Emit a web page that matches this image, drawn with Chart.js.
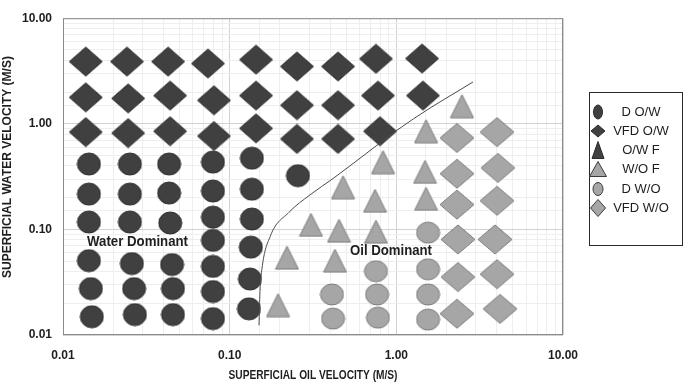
<!DOCTYPE html>
<html>
<head>
<meta charset="utf-8">
<script src="https://cdn.jsdelivr.net/npm/chart.js@4.4.0/dist/chart.umd.min.js"></script>
<style>
  html, body { margin: 0; padding: 0; background: #fff; }
</style>
</head>
<body>
<canvas id="chart" width="685" height="384"></canvas>
<script>
// values, [oil velocity, water velocity] in m/s
const dOW = [
  [0.0143, 0.416], [0.0143, 0.216], [0.0143, 0.1175], [0.0143, 0.0506], [0.0147, 0.0275], [0.0149, 0.0149],
  [0.0252, 0.416], [0.0252, 0.216], [0.0252, 0.1175], [0.0259, 0.0475], [0.0267, 0.0275], [0.0270, 0.0156],
  [0.0433, 0.416], [0.0433, 0.221], [0.0440, 0.115], [0.0451, 0.0465], [0.0457, 0.0275], [0.0457, 0.0156],
  [0.0794, 0.434], [0.0794, 0.231], [0.0794, 0.1306], [0.0794, 0.0787], [0.0794, 0.0446], [0.0794, 0.0258], [0.0794, 0.0143],
  [0.136, 0.472], [0.136, 0.240], [0.136, 0.1253], [0.134, 0.0679], [0.1324, 0.0339], [0.1306, 0.0177],
  [0.257, 0.323]
];
const vfdOW = [
  [0.0137, 3.88], [0.0242, 3.88], [0.0427, 3.88], [0.0741, 3.72], [0.1439, 4.05], [0.2535, 3.49], [0.4467, 3.49], [0.755, 4.13], [1.426, 4.15],
  [0.0137, 1.78], [0.0246, 1.74], [0.0439, 1.85], [0.0805, 1.67], [0.1439, 1.85], [0.2535, 1.50], [0.4467, 1.50], [0.776, 1.85], [1.445, 1.85],
  [0.0137, 0.834], [0.0246, 0.817], [0.0439, 0.851], [0.0805, 0.766], [0.1439, 0.906], [0.2535, 0.719], [0.4467, 0.719], [0.798, 0.851]
];
const owF = [];
const woF = [
  [2.477, 1.47], [1.507, 0.851], [0.832, 0.434], [1.486, 0.351], [0.479, 0.251], [0.745, 0.1867], [1.507, 0.195],
  [0.3076, 0.1104], [0.453, 0.0972], [0.755, 0.0952], [0.2208, 0.054], [0.4285, 0.0506], [0.195, 0.0192]
];
const dWO = [
  [1.549, 0.0931], [0.755, 0.0402], [1.549, 0.0419], [0.411, 0.0242], [0.766, 0.0242], [1.549, 0.0242],
  [0.417, 0.0143], [0.776, 0.0146], [1.549, 0.0140]
];
const vfdWO = [
  [2.312, 0.734], [4.018, 0.834], [2.312, 0.3367], [4.07, 0.382], [2.312, 0.1718], [4.018, 0.1867],
  [2.344, 0.0804], [3.91, 0.0804], [2.344, 0.0354], [4.018, 0.0377], [2.312, 0.0159], [4.19, 0.01766]
];
const boundary = [
  [0.150, 0.01233], [0.152, 0.0258], [0.156, 0.0419], [0.175, 0.0857], [0.227, 0.1452], [0.303, 0.212],
  [0.417, 0.303], [0.649, 0.513], [1.009, 0.869], [1.592, 1.41], [2.477, 2.15], [2.884, 2.49]
];
const seriesNames = ['D O/W', 'VFD O/W', 'O/W F', 'W/O F', 'D W/O', 'VFD W/O'];
const regionLabels = [
  { text: 'Water Dominant', x: 0.028, y: 0.0755, width: 101 },
  { text: 'Oil Dominant', x: 0.929, y: 0.0625, width: 82 }
];
const xTitle = 'SUPERFICIAL OIL VELOCITY (M/S)';
const yTitle = 'SUPERFICIAL WATER VELOCITY (M/S)';
const axisMin = 0.01;
const axisMax = 10;

const FONT = "'Liberation Sans Narrow', 'Liberation Sans', sans-serif";
const DARK = '#404040', DARK_LINE = '#2b2b2b';
const LIGHT = '#a6a6a6', LIGHT_LINE = '#7d7d7d';

function drawShape(ctx, type, cx, cy, w, h) {
  ctx.beginPath();
  if (type === 'circle') {
    ctx.ellipse(cx, cy, w / 2, h / 2, 0, 0, Math.PI * 2);
  } else if (type === 'diamond') {
    ctx.moveTo(cx, cy - h / 2);
    ctx.lineTo(cx + w / 2, cy);
    ctx.lineTo(cx, cy + h / 2);
    ctx.lineTo(cx - w / 2, cy);
    ctx.closePath();
  } else {
    ctx.moveTo(cx, cy - h / 2);
    ctx.lineTo(cx + w / 2, cy + h / 2);
    ctx.lineTo(cx - w / 2, cy + h / 2);
    ctx.closePath();
  }
}

function makeMarker(type, w, h, fill, stroke) {
  const c = document.createElement('canvas');
  c.width = w + 2;
  c.height = h + 2;
  const ctx = c.getContext('2d');
  drawShape(ctx, type, c.width / 2, c.height / 2, w, h);
  ctx.fillStyle = fill;
  ctx.fill();
  ctx.strokeStyle = stroke;
  ctx.lineWidth = 1;
  ctx.stroke();
  return c;
}

const toXY = arr => arr.map(p => ({ x: p[0], y: p[1] }));

// legend marker looks (small, a bit distorted like the original)
const legendMarks = [
  { type: 'circle', w: 9, h: 14, fill: DARK, stroke: DARK_LINE },
  { type: 'diamond', w: 14, h: 12, fill: DARK, stroke: DARK_LINE },
  { type: 'triangle', w: 12, h: 17, fill: DARK, stroke: DARK_LINE },
  { type: 'triangle', w: 17, h: 15, fill: LIGHT, stroke: '#3a3a3a' },
  { type: 'circle', w: 10, h: 13, fill: LIGHT, stroke: '#3a3a3a' },
  { type: 'diamond', w: 15, h: 17, fill: LIGHT, stroke: '#3a3a3a' }
];

function scatterSet(label, data, marker) {
  return {
    type: 'scatter',
    label: label,
    data: toXY(data),
    pointStyle: marker,
    pointRadius: 10,
    pointHoverRadius: 10
  };
}

const isDecade = v => {
  const l = Math.log10(v);
  return Math.abs(l - Math.round(l)) < 1e-6;
};

const extras = {
  id: 'extras',
  beforeDatasetsDraw(chart) {
    const { ctx, chartArea: a } = chart;
    ctx.save();
    ctx.strokeStyle = '#8a8a8a';
    ctx.lineWidth = 1;
    ctx.strokeRect(a.left + 0.5, a.top + 0.5, a.right - a.left - 1, a.bottom - a.top - 1);
    ctx.restore();
  },
  afterDraw(chart) {
    const { ctx, chartArea: a } = chart;
    const xs = chart.scales.x, ys = chart.scales.y;
    ctx.save();
    ctx.fillStyle = '#1e1e1e';
    ctx.textAlign = 'center';
    ctx.textBaseline = 'middle';

    ctx.font = 'bold 14px ' + FONT;
    regionLabels.forEach(r => {
      ctx.fillText(r.text, xs.getPixelForValue(r.x), ys.getPixelForValue(r.y), r.width);
    });

    ctx.font = 'bold 12px ' + FONT;
    ctx.fillText(xTitle, (a.left + a.right) / 2, 376, 169);

    ctx.save();
    ctx.translate(8, 167);
    ctx.rotate(-Math.PI / 2);
    ctx.fillText(yTitle, 0, 0, 230);
    ctx.restore();

    // legend box
    ctx.strokeStyle = '#2a2a2a';
    ctx.lineWidth = 1;
    ctx.strokeRect(589.5, 92.5, 93, 153);
    const rowY = [112, 131, 150, 169, 189, 208];
    ctx.font = '13px ' + FONT;
    seriesNames.forEach((name, i) => {
      const m = legendMarks[i];
      drawShape(ctx, m.type, 598, rowY[i], m.w, m.h);
      ctx.fillStyle = m.fill;
      ctx.fill();
      ctx.strokeStyle = m.stroke;
      ctx.stroke();
      ctx.fillStyle = '#1e1e1e';
      ctx.fillText(name, 641, rowY[i]);
    });
    ctx.restore();
  }
};

const tickFont = { family: FONT, size: 12, weight: 'bold' };
const gridColor = c => (c.tick && isDecade(c.tick.value)) ? '#d2d2d2' : '#eeeeee';

new Chart(document.getElementById('chart'), {
  data: {
    datasets: [
      {
        type: 'line',
        label: 'boundary',
        data: toXY(boundary),
        borderColor: '#4a4a4a',
        borderWidth: 1,
        pointRadius: 0,
        cubicInterpolationMode: 'monotone',
        fill: false,
        order: -1
      },
      scatterSet(seriesNames[0], dOW, makeMarker('circle', 23, 22, DARK, DARK_LINE)),
      scatterSet(seriesNames[1], vfdOW, makeMarker('diamond', 33, 29, DARK, DARK_LINE)),
      scatterSet(seriesNames[2], owF, makeMarker('triangle', 23, 24, DARK, DARK_LINE)),
      scatterSet(seriesNames[3], woF, makeMarker('triangle', 23, 23, LIGHT, LIGHT_LINE)),
      scatterSet(seriesNames[4], dWO, makeMarker('circle', 23, 21, LIGHT, LIGHT_LINE)),
      scatterSet(seriesNames[5], vfdWO, makeMarker('diamond', 34, 29, LIGHT, LIGHT_LINE))
    ]
  },
  options: {
    responsive: false,
    animation: false,
    layout: { padding: { left: 0, right: 122, top: 7, bottom: 0 } },
    plugins: {
      legend: { display: false },
      tooltip: { enabled: false }
    },
    scales: {
      x: {
        type: 'logarithmic',
        min: axisMin,
        max: axisMax,
        afterFit(scale) { scale.height = 49; },
        border: { display: false },
        grid: { drawTicks: false, color: gridColor },
        ticks: {
          autoSkip: false,
          maxRotation: 0,
          padding: 13,
          color: '#1e1e1e',
          font: tickFont,
          callback: v => isDecade(v) ? Number(v).toFixed(2) : ''
        }
      },
      y: {
        type: 'logarithmic',
        min: axisMin,
        max: axisMax,
        afterFit(scale) { scale.width = 63; },
        border: { display: false },
        grid: { drawTicks: false, color: gridColor },
        ticks: {
          autoSkip: false,
          padding: 11,
          color: '#1e1e1e',
          font: tickFont,
          callback: v => isDecade(v) ? Number(v).toFixed(2) : ''
        }
      }
    }
  },
  plugins: [extras]
});
</script>
</body>
</html>
